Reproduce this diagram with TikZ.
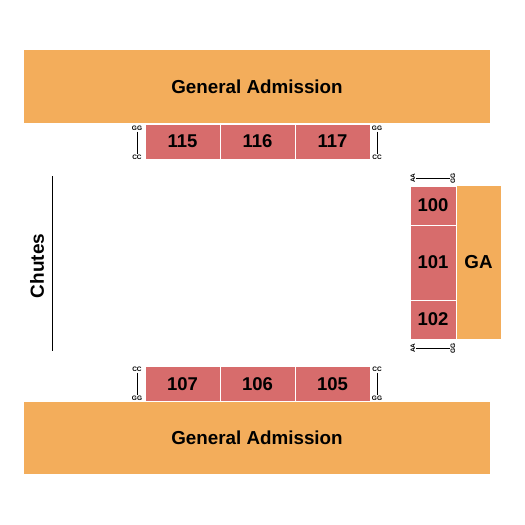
\documentclass[tikz,border=0pt]{standalone}
\usepackage{fontspec}
\setmainfont{Liberation Sans}
\usepackage{tikz}

\definecolor{gaorange}{HTML}{F3AD5B}
\definecolor{secred}{HTML}{D76C6C}

\tikzset{
    ga/.style={rectangle, fill=gaorange, inner sep=0pt, font=\bfseries\fontsize{18.8}{20}\selectfont},
    sec/.style={rectangle, fill=secred, draw=white, line width=1pt, inner sep=0pt, font=\bfseries\fontsize{18.5}{20}\selectfont},
    tag/.style={inner sep=1pt, font=\bfseries\fontsize{6.5}{7}\selectfont}
}

\begin{document}
\begin{tikzpicture}[x=1pt, y=-1pt]
            \useasboundingbox (0,0) rectangle (525,525);

            % general admission
            \node (gatop) at (257,86.5) [ga, minimum width=466pt, minimum height=73pt] {General Admission};
            \node (gabot) at (257,438) [ga, minimum width=466pt, minimum height=72pt] {General Admission};
            \node (garight) at (478.5,262.5) [ga, minimum width=45pt, minimum height=153pt] {GA};

            % rows of sections
            \foreach \n/\x in {115/182.5, 116/257.5, 117/332.5} {
                \node (s\n) at (\x,141.5) [sec, minimum width=75pt, minimum height=35pt] {\n};
            }
            \foreach \n/\x in {107/182.5, 106/257.5, 105/332.5} {
                \node (s\n) at (\x,384) [sec, minimum width=75pt, minimum height=35pt] {\n};
            }
            \node (s100) at (433,205.5) [sec, minimum width=46pt, minimum height=39pt] {100};
            \node (s101) at (433,262.5) [sec, minimum width=46pt, minimum height=75pt] {101};
            \node (s102) at (433,319.5) [sec, minimum width=46pt, minimum height=39pt] {102};

            % row markers
            \node (gg1) at (137,128) [tag] {GG};
            \node (cc1) at (137,157) [tag] {CC};
            \node (gg2) at (377,128) [tag] {GG};
            \node (cc2) at (377,157) [tag] {CC};
            \node (cc3) at (137,369) [tag] {CC};
            \node (gg3) at (137,398) [tag] {GG};
            \node (cc4) at (377,369) [tag] {CC};
            \node (gg4) at (377,398) [tag] {GG};
            \node (aa5) at (413,178) [tag, rotate=90] {AA};
            \node (gg5) at (453,178) [tag, rotate=90] {GG};
            \node (aa6) at (413,348) [tag, rotate=90] {AA};
            \node (gg6) at (453,348) [tag, rotate=90] {GG};

            \draw (gg1) -- (cc1);
            \draw (gg2) -- (cc2);
            \draw (cc3) -- (gg3);
            \draw (cc4) -- (gg4);
            \draw (aa5) -- (gg5);
            \draw (aa6) -- (gg6);

            % chutes
            \coordinate (ch1) at (52,176);
            \coordinate (ch2) at (52,351);
            \draw (ch1) -- (ch2);
            \node (chutes) at (37,266) [rotate=90, font=\bfseries\fontsize{19}{21}\selectfont] {Chutes};
        \end{tikzpicture}
\end{document}
